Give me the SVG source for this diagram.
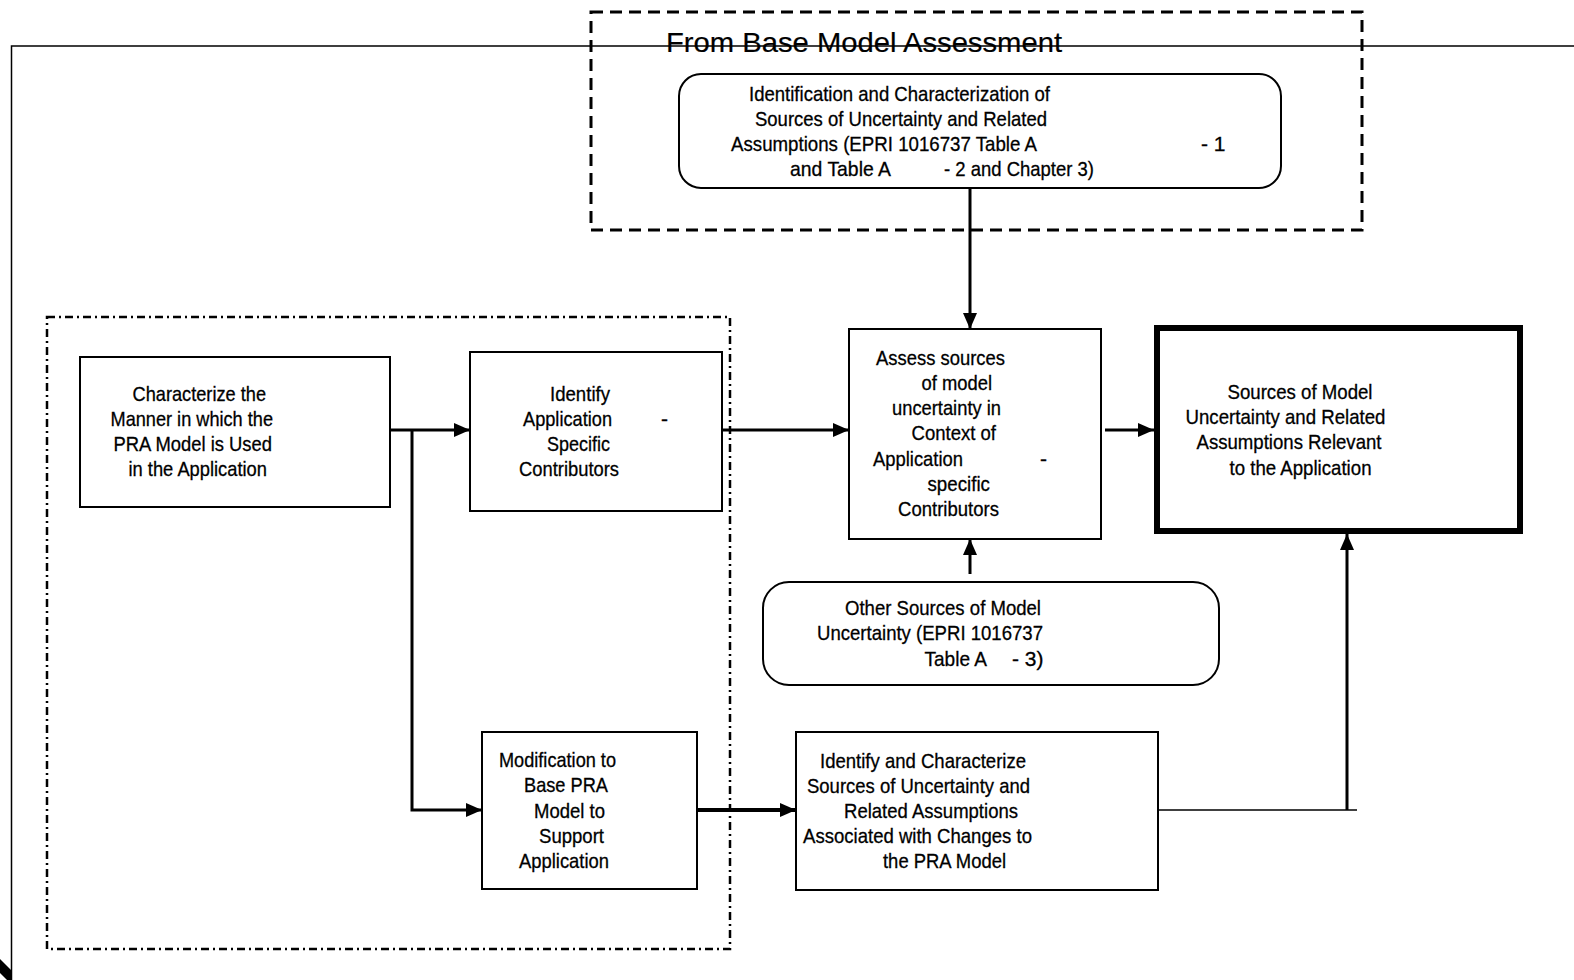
<svg xmlns="http://www.w3.org/2000/svg" width="1574" height="980" viewBox="0 0 1574 980">
  <defs>
    <style>
      .box { fill: #fff; stroke: #000; stroke-width: 2; }
      .thick { fill: #fff; stroke: #000; stroke-width: 6; }
      .frame { fill: none; stroke: #000; stroke-width: 1.5; }
      .dashed { fill: none; stroke: #000; stroke-width: 3; stroke-dasharray: 12 7; }
      .dashdot { fill: none; stroke: #000; stroke-width: 2.5; stroke-dasharray: 8 4 2 4; }
      .conn { fill: none; stroke: #000; stroke-width: 3; }
      .conn-heavy { fill: none; stroke: #000; stroke-width: 4; }
      text { font-family: "Liberation Sans", Arial, sans-serif; font-size: 21px; fill: #000; stroke: #000; stroke-width: 0.3; }
      .title { font-size: 28px; stroke-width: 0.2; }
    </style>
    <marker id="arrow" viewBox="0 0 16 14" refX="16" refY="7" markerWidth="16" markerHeight="14" markerUnits="userSpaceOnUse" orient="auto">
      <path d="M0,0 L16,7 L0,14 Z" fill="#000"/>
    </marker>
  </defs>

  <!-- page frame -->
  <g id="frame">
    <path class="frame" d="M1574,46 H11.5 V980"/>
    <polygon points="0,959 12,971 12,980 7,980 0,973" fill="#000"/>
  </g>

  <!-- grouping outlines -->
  <g id="base-model-group">
    <rect class="dashed" x="591" y="12" width="771" height="218"/>
    <text class="title" x="666" y="52" textLength="396" lengthAdjust="spacingAndGlyphs">From Base Model Assessment</text>
  </g>
  <rect id="application-group" class="dashdot" x="47" y="317" width="683" height="632"/>

  <!-- connectors -->
  <g id="connectors">
    <line class="conn" x1="970" y1="188" x2="970" y2="329" marker-end="url(#arrow)"/>
    <line class="conn" x1="390" y1="430" x2="470" y2="430" marker-end="url(#arrow)"/>
    <polyline class="conn" points="412,430 412,810 482,810" marker-end="url(#arrow)"/>
    <line class="conn" x1="722" y1="430" x2="849" y2="430" marker-end="url(#arrow)"/>
    <line class="conn" x1="1105" y1="430" x2="1154" y2="430" marker-end="url(#arrow)"/>
    <line class="conn" x1="970" y1="574" x2="970" y2="539" marker-end="url(#arrow)"/>
    <line class="conn-heavy" x1="697" y1="810" x2="796" y2="810" marker-end="url(#arrow)"/>
    <line class="frame" x1="1158" y1="810" x2="1357" y2="810"/>
    <line class="conn" x1="1347" y1="810" x2="1347" y2="534" marker-end="url(#arrow)"/>
  </g>

  <!-- nodes -->
  <g id="base-sources">
    <rect class="box" x="679" y="74" width="602" height="114" rx="22"/>
    <text x="749" y="101" textLength="301" lengthAdjust="spacingAndGlyphs">Identification and Characterization of</text>
    <text x="755" y="126" textLength="292" lengthAdjust="spacingAndGlyphs">Sources of Uncertainty and Related</text>
    <text x="731" y="151" textLength="306" lengthAdjust="spacingAndGlyphs">Assumptions (EPRI 1016737 Table A</text>
    <text x="1201" y="151">- 1</text>
    <text x="790" y="176" textLength="101" lengthAdjust="spacingAndGlyphs">and Table A</text>
    <text x="944" y="176" textLength="150" lengthAdjust="spacingAndGlyphs">- 2 and Chapter 3)</text>
  </g>

  <g id="characterize">
    <rect class="box" x="80" y="357" width="310" height="150"/>
    <text x="132.5" y="401" textLength="133.5" lengthAdjust="spacingAndGlyphs">Characterize the</text>
    <text x="110.5" y="426" textLength="162.5" lengthAdjust="spacingAndGlyphs">Manner in which the</text>
    <text x="113.5" y="451" textLength="158.5" lengthAdjust="spacingAndGlyphs">PRA Model is Used</text>
    <text x="128.5" y="476" textLength="138.5" lengthAdjust="spacingAndGlyphs">in the Application</text>
  </g>

  <g id="identify">
    <rect class="box" x="470" y="352" width="252" height="159"/>
    <text x="550" y="401" textLength="60" lengthAdjust="spacingAndGlyphs">Identify</text>
    <text x="523" y="426" textLength="89" lengthAdjust="spacingAndGlyphs">Application</text>
    <text x="661" y="426">-</text>
    <text x="547" y="451" textLength="63" lengthAdjust="spacingAndGlyphs">Specific</text>
    <text x="519" y="476" textLength="100" lengthAdjust="spacingAndGlyphs">Contributors</text>
  </g>

  <g id="assess">
    <rect class="box" x="849" y="329" width="252" height="210"/>
    <text x="876" y="365" textLength="129" lengthAdjust="spacingAndGlyphs">Assess sources</text>
    <text x="921.5" y="390" textLength="70.5" lengthAdjust="spacingAndGlyphs">of model</text>
    <text x="892" y="415" textLength="109" lengthAdjust="spacingAndGlyphs">uncertainty in</text>
    <text x="911.5" y="440" textLength="84.5" lengthAdjust="spacingAndGlyphs">Context of</text>
    <text x="873" y="466" textLength="90" lengthAdjust="spacingAndGlyphs">Application</text>
    <text x="1040" y="466">-</text>
    <text x="927.5" y="491" textLength="62.5" lengthAdjust="spacingAndGlyphs">specific</text>
    <text x="898" y="516" textLength="101" lengthAdjust="spacingAndGlyphs">Contributors</text>
  </g>

  <g id="relevant-sources">
    <rect class="thick" x="1157" y="328" width="363" height="203"/>
    <text x="1227.5" y="399" textLength="145" lengthAdjust="spacingAndGlyphs">Sources of Model</text>
    <text x="1185.5" y="424" textLength="200" lengthAdjust="spacingAndGlyphs">Uncertainty and Related</text>
    <text x="1196.5" y="449" textLength="185" lengthAdjust="spacingAndGlyphs">Assumptions Relevant</text>
    <text x="1229.5" y="475" textLength="142" lengthAdjust="spacingAndGlyphs">to the Application</text>
  </g>

  <g id="other-sources">
    <rect class="box" x="763" y="582" width="456" height="103" rx="26"/>
    <text x="845" y="615" textLength="196" lengthAdjust="spacingAndGlyphs">Other Sources of Model</text>
    <text x="817" y="640" textLength="226" lengthAdjust="spacingAndGlyphs">Uncertainty (EPRI 1016737</text>
    <text x="924.5" y="666" textLength="62.5" lengthAdjust="spacingAndGlyphs">Table A</text>
    <text x="1012" y="666">- 3)</text>
  </g>

  <g id="modification">
    <rect class="box" x="482" y="732" width="215" height="157"/>
    <text x="499" y="767" textLength="117" lengthAdjust="spacingAndGlyphs">Modification to</text>
    <text x="524" y="792" textLength="84" lengthAdjust="spacingAndGlyphs">Base PRA</text>
    <text x="534" y="818" textLength="71" lengthAdjust="spacingAndGlyphs">Model to</text>
    <text x="539" y="843" textLength="65" lengthAdjust="spacingAndGlyphs">Support</text>
    <text x="519" y="868" textLength="90" lengthAdjust="spacingAndGlyphs">Application</text>
  </g>

  <g id="change-sources">
    <rect class="box" x="796" y="732" width="362" height="158"/>
    <text x="820" y="768" textLength="206" lengthAdjust="spacingAndGlyphs">Identify and Characterize</text>
    <text x="807" y="793" textLength="223" lengthAdjust="spacingAndGlyphs">Sources of Uncertainty and</text>
    <text x="844" y="818" textLength="174" lengthAdjust="spacingAndGlyphs">Related Assumptions</text>
    <text x="803" y="843" textLength="229" lengthAdjust="spacingAndGlyphs">Associated with Changes to</text>
    <text x="883" y="868" textLength="123" lengthAdjust="spacingAndGlyphs">the PRA Model</text>
  </g>
</svg>
